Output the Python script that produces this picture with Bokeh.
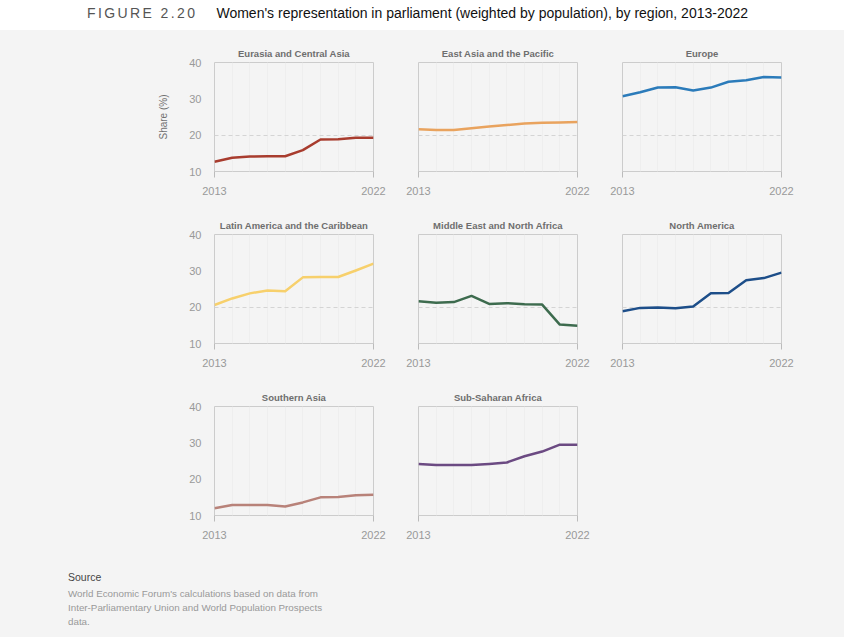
from bokeh.plotting import figure
from bokeh.models import Div, FixedTicker, Range1d, Spacer
from bokeh.layouts import column, row
from bokeh.embed import file_html
from bokeh.resources import INLINE

# Data ########################################################################

years = list(range(2013, 2023))

regions = ["Eurasia and Central Asia", "East Asia and the Pacific", "Europe",
           "Latin America and the Caribbean", "Middle East and North Africa", "North America",
           "Southern Asia", "Sub-Saharan Africa"]

eurasia = [12.7, 13.8, 14.1, 14.2, 14.2, 15.9, 18.8, 18.9, 19.3, 19.3]
east_asia = [21.6, 21.4, 21.4, 21.9, 22.4, 22.8, 23.2, 23.4, 23.5, 23.6]
europe = [30.7, 31.8, 33.1, 33.2, 32.3, 33.1, 34.7, 35.1, 36.0, 35.9]
latin_america = [20.6, 22.4, 23.8, 24.6, 24.4, 28.2, 28.3, 28.3, 30.1, 32.0]
mena = [21.6, 21.2, 21.4, 23.1, 20.9, 21.1, 20.8, 20.7, 15.2, 14.9]
north_america = [18.9, 19.8, 19.9, 19.7, 20.2, 23.8, 23.9, 27.4, 28.0, 29.5]
southern_asia = [12.0, 12.9, 12.9, 12.9, 12.5, 13.6, 15.0, 15.1, 15.6, 15.7]
sub_saharan = [24.2, 23.9, 23.9, 23.9, 24.2, 24.6, 26.3, 27.6, 29.5, 29.5]

series = [eurasia, east_asia, europe, latin_america, mena, north_america, southern_asia, sub_saharan]
colors = ["#a83c2e", "#e9a35e", "#2b7bba", "#f7d06c", "#3d6b4e", "#1d4e89", "#b88279", "#6b4a82"]

y_ticks = [10, 20, 30, 40]
ref_level = 20

# Style #######################################################################

bg = "#f4f4f4"
font = "Liberation Sans"
frame_w = 159
frame_h = 109
page_w = 834


def panel(name, values, color, col, rw):
    left = 214 if col == 0 else 23
    right = 53 if col == 2 else 22
    top = 32 if rw == 0 else 31
    bottom = 32
    p = figure(width=left + frame_w + right, height=top + frame_h + bottom,
               min_border_left=left, min_border_right=right, min_border_top=top, min_border_bottom=bottom,
               x_range=Range1d(years[0], years[-1]), y_range=Range1d(y_ticks[0], y_ticks[-1]),
               toolbar_location=None, output_backend="svg", title=name,
               background_fill_color=bg, border_fill_color=bg)
    p.outline_line_color = "#cccccc"

    p.title.align = "center"
    p.title.text_font = font
    p.title.text_font_size = "9.5px"
    p.title.text_font_style = "bold"
    p.title.text_color = "#6e6e6e"
    p.title.standoff = 8

    p.xaxis.ticker = FixedTicker(ticks=[years[0], years[-1]])
    p.xaxis.axis_line_color = None
    p.xaxis.major_tick_in = 0
    p.xaxis.major_tick_out = 6
    p.xaxis.major_tick_line_color = "#bbbbbb"
    p.xaxis.minor_tick_line_color = None
    p.xaxis.major_label_text_font = font
    p.xaxis.major_label_text_font_size = "11px"
    p.xaxis.major_label_text_color = "#999999"
    p.xaxis.major_label_standoff = 9

    if col == 0:
        p.yaxis.ticker = FixedTicker(ticks=y_ticks)
        p.yaxis.axis_line_color = None
        p.yaxis.major_tick_in = 0
        p.yaxis.major_tick_out = 0
        p.yaxis.minor_tick_line_color = None
        p.yaxis.major_label_text_font = font
        p.yaxis.major_label_text_font_size = "11px"
        p.yaxis.major_label_text_color = "#999999"
        p.yaxis.major_label_standoff = 13
        if rw == 0:
            p.yaxis.axis_label = "Share (%)"
            p.yaxis.axis_label_text_font = font
            p.yaxis.axis_label_text_font_size = "10px"
            p.yaxis.axis_label_text_font_style = "normal"
            p.yaxis.axis_label_text_color = "#707070"
            p.yaxis.axis_label_standoff = 17
    else:
        p.yaxis.visible = False

    p.xgrid.ticker = FixedTicker(ticks=years)
    p.xgrid.grid_line_color = "#eeeeee"
    if rw < 2:
        p.ygrid.ticker = FixedTicker(ticks=[ref_level])
        p.ygrid.grid_line_color = "#d4d4d4"
        p.ygrid.grid_line_dash = "4 3"
    else:
        p.ygrid.grid_line_color = None

    p.line(years, values, line_width=2.5, color=color, line_join="round")
    return p


figs = [panel(name, vals, c, i % 3, i // 3) for i, (name, vals, c) in enumerate(zip(regions, series, colors))]

header = Div(text=(
    "<div style=\"font-family:'Liberation Sans'; white-space:nowrap; padding:0 0 0 82px; line-height:16px;\">"
    "<span style='font-size:14px; letter-spacing:2.4px; color:#555;'>FIGURE 2.20</span>"
    "<span style='font-size:14px; color:#111; margin-left:19px;'>"
    "Women's representation in parliament (weighted by population), by region, 2013-2022</span></div>"),
    width=page_w, height=20, styles={"background-color": "white"})

source = Div(text=(
    "<div style=\"font-family:'Liberation Sans'; padding:18px 0 0 63px; font-size:9.8px; line-height:14px;\">"
    "<div style='color:#444; font-size:10.5px; margin-bottom:3px;'>Source</div>"
    "<div style='color:#999;'>World Economic Forum's calculations based on data from<br>"
    "Inter-Parliamentary Union and World Population Prospects<br>data.</div></div>"),
    width=page_w, height=80, styles={"background-color": bg})

row1 = row(figs[0:3], spacing=0)
row2 = row(figs[3:6], spacing=0)
row3 = row(figs[6:8] + [Spacer(width=figs[2].width, height=figs[6].height, styles={"background-color": bg})],
           spacing=0)

body = column(row1, row2, row3, source, spacing=0, styles={"background-color": bg})
page = column(header, body, spacing=0)

open("out.html", "w").write(file_html(page, INLINE))
